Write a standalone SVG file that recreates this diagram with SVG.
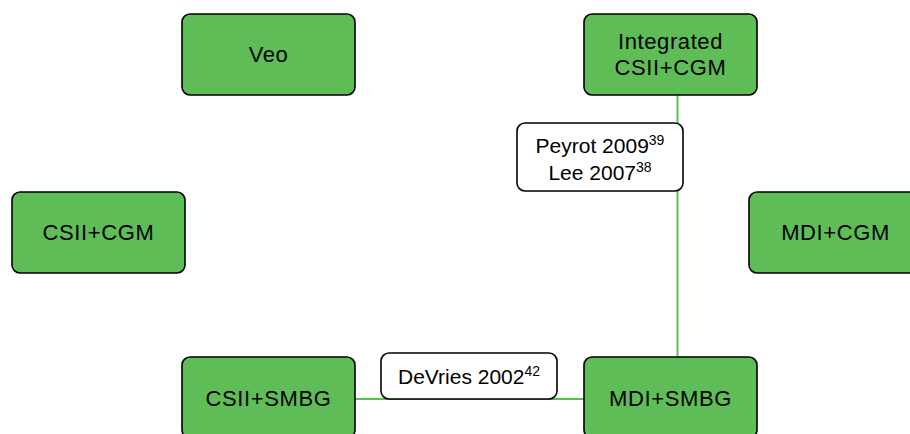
<svg xmlns="http://www.w3.org/2000/svg" width="910" height="434" viewBox="0 0 910 434">
<style>
.node rect{fill:#5fbd58;stroke:#000;stroke-width:1.6}
.lab rect{fill:#fff;stroke:#000;stroke-width:1.6}
text{font-family:"Liberation Sans","Open Sans",sans-serif;font-size:21px;fill:#000;text-anchor:middle}
.node text{font-size:22px;letter-spacing:0.6px}
.sup{font-size:14px}
.conn line{stroke:#5fbd58;stroke-width:2}
</style>
<rect width="910" height="434" fill="#fff"/>
<g id="connectors" class="conn">
<line x1="677.5" y1="95" x2="677.5" y2="357"/>
<line x1="355" y1="399" x2="584" y2="399"/>
</g>
<g id="veo" class="node"><rect x="182" y="14" width="173" height="81" rx="8"/><text x="268.5" y="62">Veo</text></g>
<g id="integrated" class="node"><rect x="584" y="14" width="173" height="81" rx="8"/><text x="670.5" y="49">Integrated</text><text x="670.5" y="75">CSII+CGM</text></g>
<g id="csii-cgm" class="node"><rect x="12" y="192" width="173" height="81" rx="8"/><text x="98.5" y="240">CSII+CGM</text></g>
<g id="mdi-cgm" class="node"><rect x="749" y="192" width="173" height="81" rx="8"/><text x="835.5" y="240">MDI+CGM</text></g>
<g id="csii-smbg" class="node"><rect x="182" y="357" width="173" height="81" rx="8"/><text x="268.5" y="406">CSII+SMBG</text></g>
<g id="mdi-smbg" class="node"><rect x="584" y="357" width="173" height="81" rx="8"/><text x="670.5" y="406">MDI+SMBG</text></g>
<g id="label-peyrot" class="lab"><rect x="517" y="123" width="166" height="68" rx="8"/><text x="600" y="153">Peyrot 2009<tspan class="sup" dy="-8">39</tspan></text><text x="600" y="180">Lee 2007<tspan class="sup" dy="-8">38</tspan></text></g>
<g id="label-devries" class="lab"><rect x="381" y="353" width="176" height="46" rx="8"/><text x="469" y="384">DeVries 2002<tspan class="sup" dy="-8">42</tspan></text></g>
</svg>
